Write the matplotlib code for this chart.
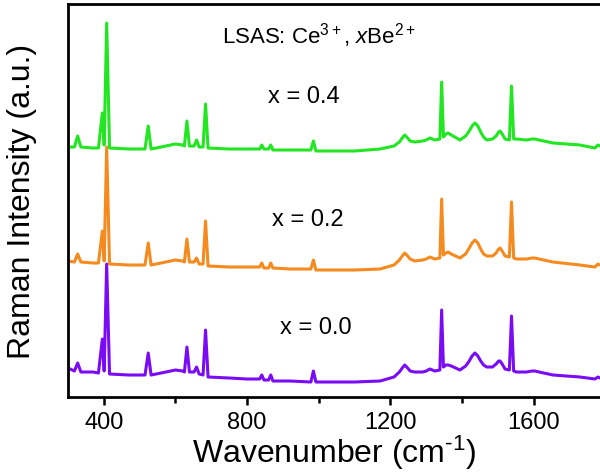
import matplotlib
matplotlib.use('Agg')
import matplotlib.pyplot as plt

plt.rcParams['font.family'] = ['Liberation Sans', 'DejaVu Sans']
plt.rcParams['mathtext.fontset'] = 'custom'
plt.rcParams['mathtext.rm'] = 'Liberation Sans'
plt.rcParams['mathtext.it'] = 'Liberation Sans:italic'
plt.rcParams['mathtext.default'] = 'regular'

# wavenumber knots (cm-1)
wavenumber = [300, 318, 327, 336, 370, 385, 396, 401, 408, 416, 470, 515, 524, 532,
              560, 600, 620, 625, 632, 639, 652, 659, 666, 677, 684, 691, 750, 800,
              835, 841, 847, 860, 866, 872, 920, 978, 985, 992, 1100,
              1171, 1210, 1225, 1233, 1240, 1248, 1255, 1268, 1290, 1300, 1310,
              1324, 1338, 1343, 1348, 1355, 1361, 1370, 1394, 1410, 1420, 1428,
              1436, 1444, 1452, 1460, 1469, 1485, 1495, 1502, 1506, 1512, 1520,
              1532, 1538, 1544, 1552, 1580, 1595, 1603, 1615, 1654,
              1729, 1771, 1779, 1785]

# stacked intensities (a.u.)
x04 = [250, 250, 261, 250, 249, 249, 284, 252, 374, 249, 248, 248, 271, 248,
       250, 253, 252, 251, 276, 251, 251, 257, 250, 250, 293, 249, 248, 248,
       248, 252, 248, 248, 252, 247, 247, 247, 256, 246, 246,
       248, 251, 255, 259, 262, 259, 256, 255, 256, 257, 259,
       257, 258, 315, 260, 263, 264, 262, 257, 261, 266, 271,
       274, 271, 265, 260, 257, 258, 261, 265, 266, 263, 258,
       257, 311, 258, 258, 257, 258, 258, 257, 254,
       252, 249, 252, 251]
x02 = [136, 135, 143, 135, 134, 134, 166, 136, 250, 133, 132, 132, 154, 132,
       134, 137, 136, 135, 158, 135, 135, 139, 133, 133, 176, 131, 130, 130,
       130, 134, 129, 129, 134, 129, 128, 128, 137, 127, 127,
       128, 132, 137, 141, 144, 141, 138, 136, 137, 138, 140,
       138, 139, 198, 142, 144, 145, 143, 139, 143, 149, 154,
       157, 154, 148, 143, 141, 141, 144, 148, 149, 146, 141,
       140, 195, 139, 138, 138, 139, 139, 138, 135,
       132, 130, 133, 132]
x00 = [29, 26, 34, 25, 25, 24, 58, 26, 133, 23, 22, 22, 44, 22,
       24, 27, 26, 25, 50, 25, 25, 30, 23, 22, 67, 20, 19, 18,
       18, 22, 17, 17, 22, 16, 16, 15, 26, 15, 15,
       16, 20, 25, 29, 32, 29, 26, 25, 25, 26, 28,
       26, 27, 87, 30, 32, 32, 31, 27, 31, 36, 41,
       44, 41, 36, 32, 30, 30, 33, 36, 36, 33, 28,
       27, 81, 26, 25, 25, 26, 26, 25, 22,
       20, 18, 20, 19]

fig = plt.figure(figsize=(6, 4.77), dpi=100)
ax = fig.add_axes([0.1133, 0.1656, 0.8867, 0.8239])

ax.plot(wavenumber, x00, color='#7a0cf5', lw=2.2)
ax.plot(wavenumber, x02, color='#f58a1f', lw=2.2)
ax.plot(wavenumber, x04, color='#22e622', lw=2.2)

ax.set_xlim(300, 1785)
ax.set_ylim(0, 393)
ax.set_xticks([400, 800, 1200, 1600])
ax.set_xticks([600, 1000, 1400], minor=True)
ax.set_yticks([])
ax.tick_params(axis='x', which='major', direction='out', length=6, width=1.8,
               labelsize=17, pad=4)
ax.tick_params(axis='x', which='minor', direction='out', length=4, width=1.8)
for s in ['left', 'bottom', 'top']:
    ax.spines[s].set_linewidth(2)
ax.spines['right'].set_visible(False)

ax.set_xlabel(r'Wavenumber (cm$^{\text{-1}}$)', fontsize=23, labelpad=0)
ax.set_ylabel('Raman Intensity (a.u.)', fontsize=23)
ax.yaxis.set_label_coords(-0.058, 0.5)

ax.text(0.2895, 0.9008, r'LSAS: Ce$^{3+}$, $\mathit{x}$Be$^{2+}$', fontsize=16,
        transform=ax.transAxes, ha='left', va='baseline')
ax.text(0.376, 0.751, 'x = 0.4', fontsize=17, transform=ax.transAxes,
        ha='left', va='baseline')
ax.text(0.383, 0.4377, 'x = 0.2', fontsize=17, transform=ax.transAxes,
        ha='left', va='baseline')
ax.text(0.3985, 0.162, 'x = 0.0', fontsize=17, transform=ax.transAxes,
        ha='left', va='baseline')

fig.savefig('out.png', dpi=100)
